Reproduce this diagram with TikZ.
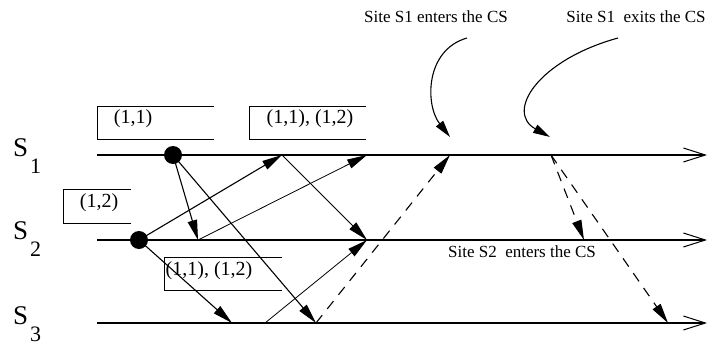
\documentclass[tikz,border=0pt]{standalone}
\usepackage{fontspec}
\setmainfont{Liberation Serif}
\usetikzlibrary{arrows.meta}
\begin{document}
\begin{tikzpicture}[x=1pt,y=-1pt,
  timeline/.style={line width=1.2pt,-{Straight Barb[length=22pt,width=14pt,line width=1pt]}},
  msg/.style={line width=1.1pt,-{Triangle[length=20pt,width=9.5pt]}},
  msgthin/.style={line width=0.8pt,-{Triangle[length=20pt,width=9.5pt]}},
  dmsg/.style={line width=1.1pt,dash pattern=on 10pt off 8pt,-{Triangle[length=20pt,width=9.5pt]}},
  curv/.style={line width=1.1pt,-{Triangle[length=17pt,width=9pt]}},
  boxline/.style={line width=1pt},
  dot/.style={circle,fill=black,inner sep=0pt,minimum size=18pt},
  lbl/.style={font=\fontsize{17}{19}\selectfont,inner sep=0pt},
  blbl/.style={font=\fontsize{20}{22}\selectfont,inner sep=0pt},
  slbl/.style={font=\fontsize{27}{30}\selectfont,inner sep=0pt,anchor=base west}]
\useasboundingbox (0,0) rectangle (711,345);
% timelines
\coordinate (a1) at (97,155); \coordinate (b1) at (707,155);
\coordinate (a2) at (97,240); \coordinate (b2) at (707,240);
\coordinate (a3) at (97,323); \coordinate (b3) at (707,323);
\draw[timeline] (a1) -- (b1);
\draw[timeline] (a2) -- (b2);
\draw[timeline] (a3) -- (b3);
% site labels
\newcommand{\sitelab}[1]{S\kern2pt\raisebox{-17.5pt}{\fontsize{22}{24}\selectfont #1}}
\node[slbl] (s1) at (13,156) {\sitelab{1}};
\node[slbl] (s2) at (13,239) {\sitelab{2}};
\node[slbl] (s3) at (13,324) {\sitelab{3}};
% boxes
\draw[boxline] (214,106) -- (97,106) -- (97,139) -- (214,139);
\node[blbl] (t11) at (133,119) {(1,1)};
\draw[boxline] (366,106) -- (249,106) -- (249,139) -- (366,139);
\node[blbl] (t1112) at (310,119) {(1,1), (1,2)};
\draw[boxline] (131,189) -- (63,189) -- (63,223) -- (131,223);
\node[blbl] (t12) at (99,203) {(1,2)};
\draw[boxline] (282,257) -- (164,257) -- (164,290) -- (282,290);
\node[blbl] (t1112b) at (209,271) {(1,1), (1,2)};
% points
\coordinate (p1) at (173,155);
\coordinate (p2) at (139,240);
\coordinate (q2) at (198,240);
\coordinate (q1) at (282,155);
\coordinate (r1) at (367,155);
\coordinate (r2) at (367,240);
\coordinate (u3) at (232,323);
\coordinate (v3) at (265,323);
\coordinate (w3) at (316,323);
\coordinate (e1) at (450,155);
\coordinate (x1) at (551,155);
\coordinate (x2) at (584,240);
\coordinate (x3) at (668,323);
% messages
\draw[msg] (p1) -- (q2);
\draw[msg] (p1) -- (w3);
\draw[msg] (p2) -- (q1);
\draw[msg] (p2) -- (u3);
\draw[msgthin] (q2) -- (r1);
\draw[msgthin] (q1) -- (r2);
\draw[msgthin] (v3) -- (r2);
\draw[dmsg] (w3) -- (e1);
\draw[dmsg] (x1) -- (x2);
\draw[dmsg] (x1) -- (x3);
% dots
\node[dot] (d1) at (p1) {};
\node[dot] (d2) at (p2) {};
% annotations
\node[lbl] (en1) at (436,17) {Site S1 enters the CS};
\node[lbl] (ex1) at (636,17) {Site S1\ \ exits the CS};
\node[lbl] (en2) at (522,252) {Site S2\ \ enters the CS};
\coordinate (c1s) at (467,38);
\coordinate (c1e) at (450,137);
\coordinate (c2s) at (618,38);
\coordinate (c2e) at (550,137);
\draw[curv] (c1s) .. controls (425,50) and (425,105) .. (c1e);
\draw[curv] (c2s) .. controls (538,60) and (505,112) .. (c2e);
\end{tikzpicture}
\end{document}
